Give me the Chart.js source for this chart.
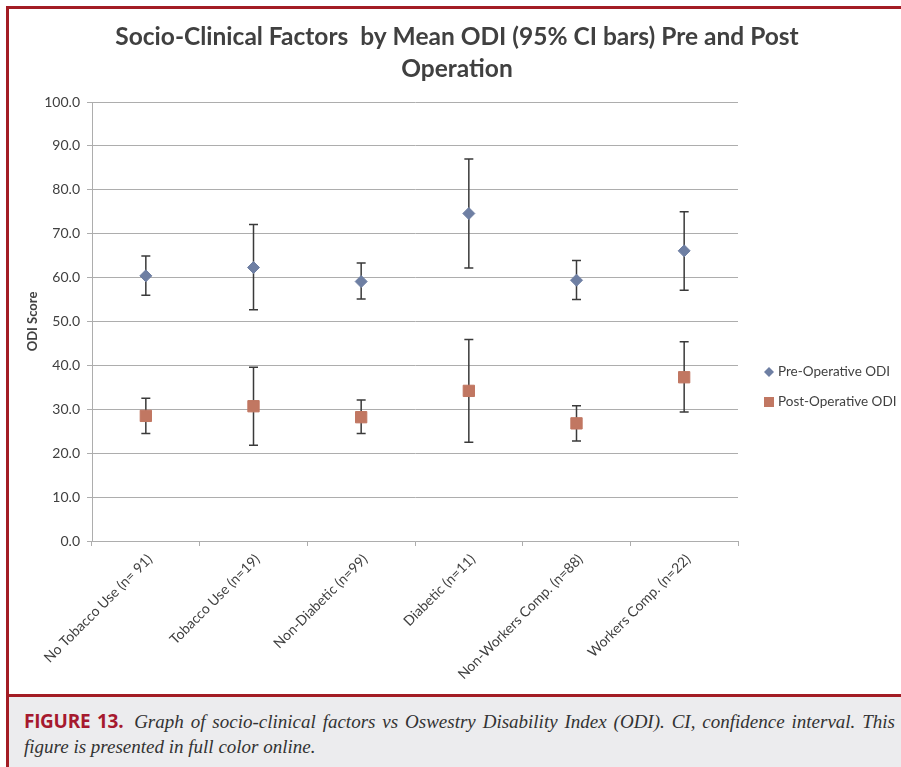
<!DOCTYPE html>
<html lang="en">
<head>
<meta charset="UTF-8">
<title>Socio-Clinical Factors by Mean ODI</title>
<script src="https://cdn.jsdelivr.net/npm/chart.js"></script>
<style>
  body { margin: 0; background: #fff; }
  .frame { position: relative; width: 901px; height: 767px; overflow: hidden; background: #fff; }
  .frame-top { position: absolute; left: 6px; top: 6px; width: 895px; height: 3px; background: #a31c24; }
  .frame-left { position: absolute; left: 6px; top: 6px; width: 3px; height: 761px; background: #a31c24; }
  .chart-box { position: absolute; left: 9px; top: 9px; width: 892px; height: 685px; }
  .caption-box { position: absolute; left: 9px; top: 694px; width: 892px; height: 70px; background: #ececee; border-top: 3px solid #a31c24; }
  .cap { padding: 12px 6px 0 15px; font-family: "Liberation Serif", serif; font-style: italic; font-size: 19px; color: #333; line-height: 25px; }
  .cap .l1 { text-align: justify; text-align-last: justify; white-space: nowrap; }
  .cap .fig { font-family: "Open Sans", sans-serif; font-style: normal; font-weight: 700; color: #a6192e; font-size: 19px; margin-right: 4px; letter-spacing: -0.3px; }
</style>
</head>
<body>
<div class="frame">
  <div class="chart-box"><canvas id="odiChart" width="892" height="685"></canvas></div>
  <div class="frame-top"></div>
  <div class="frame-left"></div>
  <div class="caption-box">
    <div class="cap">
      <div class="l1"><span class="fig">FIGURE 13.</span> Graph of socio-clinical factors vs Oswestry Disability Index (ODI). CI, confidence interval. This</div>
      <div class="l2">figure is presented in full color online.</div>
    </div>
  </div>
</div>

<script>
// chart data
const categories = ['No Tobacco Use (n= 91)', 'Tobacco Use (n=19)', 'Non-Diabetic (n=99)', 'Diabetic (n=11)', 'Non-Workers Comp. (n=88)', 'Workers Comp. (n=22)'];
const preMean = [60.4, 62.3, 59.1, 74.6, 59.4, 66.1];
const preLow = [56.0, 52.7, 55.1, 62.2, 55.0, 57.1];
const preHigh = [64.9, 72.1, 63.3, 87.0, 63.9, 75.0];
const postMean = [28.5, 30.7, 28.2, 34.2, 26.8, 37.3];
const postLow = [24.5, 21.8, 24.5, 22.5, 22.8, 29.4];
const postHigh = [32.5, 39.6, 32.1, 45.9, 30.8, 45.4];
const titleLines = ['Socio-Clinical Factors  by Mean ODI (95% CI bars) Pre and Post', 'Operation'];

const textColor = '#404040';
const gridColor = '#adadad';

// draws the 95% CI whiskers behind the markers
const errorBars = {
  id: 'errorBars',
  beforeDatasetsDraw(chart) {
    const ctx = chart.ctx;
    const y = chart.scales.y;
    chart.data.datasets.forEach((ds, di) => {
      const meta = chart.getDatasetMeta(di);
      ctx.save();
      ctx.strokeStyle = '#3a3a3a';
      ctx.lineWidth = 1.5;
      meta.data.forEach((pt, i) => {
        const yl = y.getPixelForValue(ds.low[i]);
        const yh = y.getPixelForValue(ds.high[i]);
        ctx.beginPath();
        ctx.moveTo(pt.x, yl); ctx.lineTo(pt.x, yh);
        ctx.moveTo(pt.x - 4.5, yl); ctx.lineTo(pt.x + 4.5, yl);
        ctx.moveTo(pt.x - 4.5, yh); ctx.lineTo(pt.x + 4.5, yh);
        ctx.stroke();
      });
      ctx.restore();
    });
  }
};

// title and side legend, placed like the excel original
const decor = {
  id: 'decor',
  afterDraw(chart) {
    const ctx = chart.ctx;
    ctx.save();
    ctx.fillStyle = textColor;
    ctx.font = 'bold 24.5px Lato';
    ctx.textAlign = 'center';
    ctx.textBaseline = 'middle';
    titleLines.forEach((t, i) => ctx.fillText(t, 448, 28 + i * 32));

    ctx.font = '13.5px Lato';
    ctx.textAlign = 'left';
    chart.data.datasets.forEach((ds, i) => {
      const ly = 363 + i * 30;
      ctx.fillStyle = ds.backgroundColor;
      ctx.beginPath();
      if (ds.pointStyle === 'rectRot') {
        ctx.moveTo(760, ly - 5); ctx.lineTo(765, ly); ctx.lineTo(760, ly + 5); ctx.lineTo(755, ly);
      } else {
        ctx.rect(755, ly - 5, 10, 10);
      }
      ctx.closePath();
      ctx.fill();
      ctx.fillStyle = textColor;
      ctx.fillText(ds.label, 769, ly);
    });
    ctx.restore();
  }
};

new Chart(document.getElementById('odiChart'), {
  type: 'line',
  data: {
    labels: categories,
    datasets: [
      {
        label: 'Pre-Operative ODI',
        data: preMean,
        low: preLow,
        high: preHigh,
        showLine: false,
        pointStyle: 'rectRot',
        pointRadius: 6,
        backgroundColor: '#6e7fa3',
        borderColor: '#6e7fa3',
        borderWidth: 1
      },
      {
        label: 'Post-Operative ODI',
        data: postMean,
        low: postLow,
        high: postHigh,
        showLine: false,
        pointStyle: 'rect',
        pointRadius: 8,
        backgroundColor: '#c17762',
        borderColor: '#c17762',
        borderWidth: 1
      }
    ]
  },
  options: {
    responsive: false,
    animation: false,
    layout: { padding: { top: 93, right: 163, left: 5, bottom: 0 } },
    plugins: {
      legend: { display: false },
      title: { display: false },
      tooltip: { enabled: false }
    },
    scales: {
      x: {
        offset: true,
        afterFit(scale) { scale.height = 153; },
        grid: { offset: true, drawOnChartArea: false, tickLength: 5, color: gridColor },
        border: { color: gridColor },
        ticks: { color: textColor, font: { family: 'Lato', size: 14 }, minRotation: 45, maxRotation: 45, padding: 5, labelOffset: 4 }
      },
      y: {
        min: 0,
        max: 100,
        afterFit(scale) { scale.width = 78; },
        grid: { color: gridColor, tickLength: 5 },
        border: { color: gridColor },
        ticks: { stepSize: 10, color: textColor, font: { family: 'Lato', size: 14 }, padding: 7, callback: v => v.toFixed(1) },
        title: { display: true, text: 'ODI Score', color: textColor, font: { family: 'Lato', size: 13, weight: 'bold' }, padding: { top: 11, bottom: 0 } }
      }
    }
  },
  plugins: [errorBars, decor]
});
</script>
</body>
</html>
